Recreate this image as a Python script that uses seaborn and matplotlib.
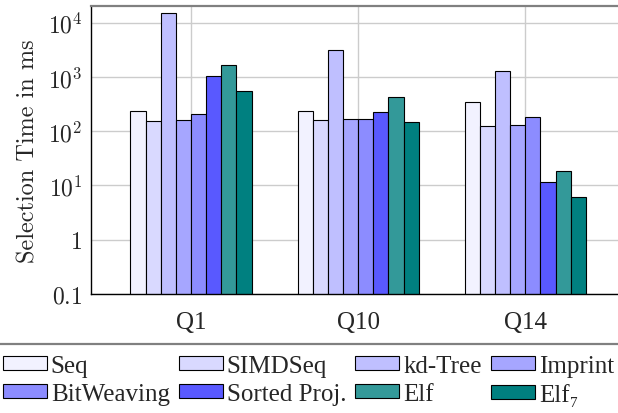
import numpy as np
import pandas as pd
import matplotlib.pyplot as plt
import seaborn as sns

# values (ms, log axis)
queries = ['Q1', 'Q10', 'Q14']
methods = ['Seq', 'SIMDSeq', 'kd-Tree', 'Imprint',
           'BitWeaving', 'Sorted Proj.', 'Elf', 'Elf\u2087']
seq = [240, 240, 350]
simdseq = [157, 164, 125]
kdtree = [15000, 3180, 1270]
imprint = [158, 166, 131]
bitweaving = [211, 171, 183]
sorted_proj = [1040, 224, 11.5]
elf = [1640, 434, 18.8]
elf7 = [545, 148, 6.1]

colors = ['#f2f2ff', '#d9d9ff', '#bfbfff', '#a6a6ff',
          '#8c8cff', '#5959ff', '#339999', '#008080']

series = [seq, simdseq, kdtree, imprint, bitweaving, sorted_proj, elf, elf7]
rows = []
for m, vals in zip(methods, series):
    for q, v in zip(queries, vals):
        rows.append({'query': q, 'method': m, 'time': v})
df = pd.DataFrame(rows)

sns.set_style('white')
plt.rcParams['font.family'] = ['Liberation Serif', 'DejaVu Serif']
plt.rcParams['mathtext.fontset'] = 'cm'

fig = plt.figure(figsize=(6.18, 4.14), dpi=100)
ax = fig.add_axes([0.1468, 0.2874, 0.8655, 0.6964])

sns.barplot(data=df, x='query', y='time', hue='method', order=queries,
            hue_order=methods, palette=colors, width=0.725, errorbar=None,
            edgecolor='black', linewidth=0.8, saturation=1, ax=ax)
ax.set_yscale('log')
ax.set_ylim(0.1, 2.05e4)
ax.set_xlim(-0.6, 2.6)

ax.set_yticks([0.1, 1, 10, 100, 1000, 10000])
ax.set_yticklabels(['$0.1$', '$1$', '$10^1$', '$10^2$', '$10^3$', '$10^4$'],
                   fontsize=17)
ax.tick_params(axis='y', which='major', direction='in', length=6,
               color='#888888', width=0.8, pad=6)
ax.tick_params(axis='y', which='minor', direction='in', length=3,
               color='#888888', width=0.6)
ax.tick_params(axis='x', direction='out', length=7, color='#c8c8c8',
               width=1, labelsize=18, pad=5)

ax.set_axisbelow(True)
ax.grid(True, which='major', axis='both', color='#cccccc', linewidth=1)
ax.set_xlabel('')
ax.set_ylabel('Selection Time in ms', family='cmr10', fontsize=17.5,
              labelpad=6)

ax.spines['right'].set_visible(False)
ax.spines['top'].set_color('#808080')
ax.spines['top'].set_linewidth(1.6)
ax.spines['left'].set_color('black')
ax.spines['bottom'].set_color('black')
ax.spines['left'].set_linewidth(1)
ax.spines['bottom'].set_linewidth(1)

# legend is row-major in the reference, matplotlib fills by column
handles, labels = ax.get_legend_handles_labels()
ax.get_legend().remove()
order = [0, 4, 1, 5, 2, 6, 3, 7]
leg = fig.legend([handles[i] for i in order], [labels[i] for i in order],
                 loc='upper left', bbox_to_anchor=(-0.0138, 0.1667), ncol=4,
                 fontsize=18, frameon=True, fancybox=False, framealpha=1,
                 edgecolor='#808080', handlelength=1.76, handleheight=0.48,
                 handletextpad=0.16, columnspacing=0.36, labelspacing=0.22,
                 borderpad=0.45, borderaxespad=0)
leg.get_frame().set_linewidth(1.6)

fig.savefig('out.png', dpi=100)
